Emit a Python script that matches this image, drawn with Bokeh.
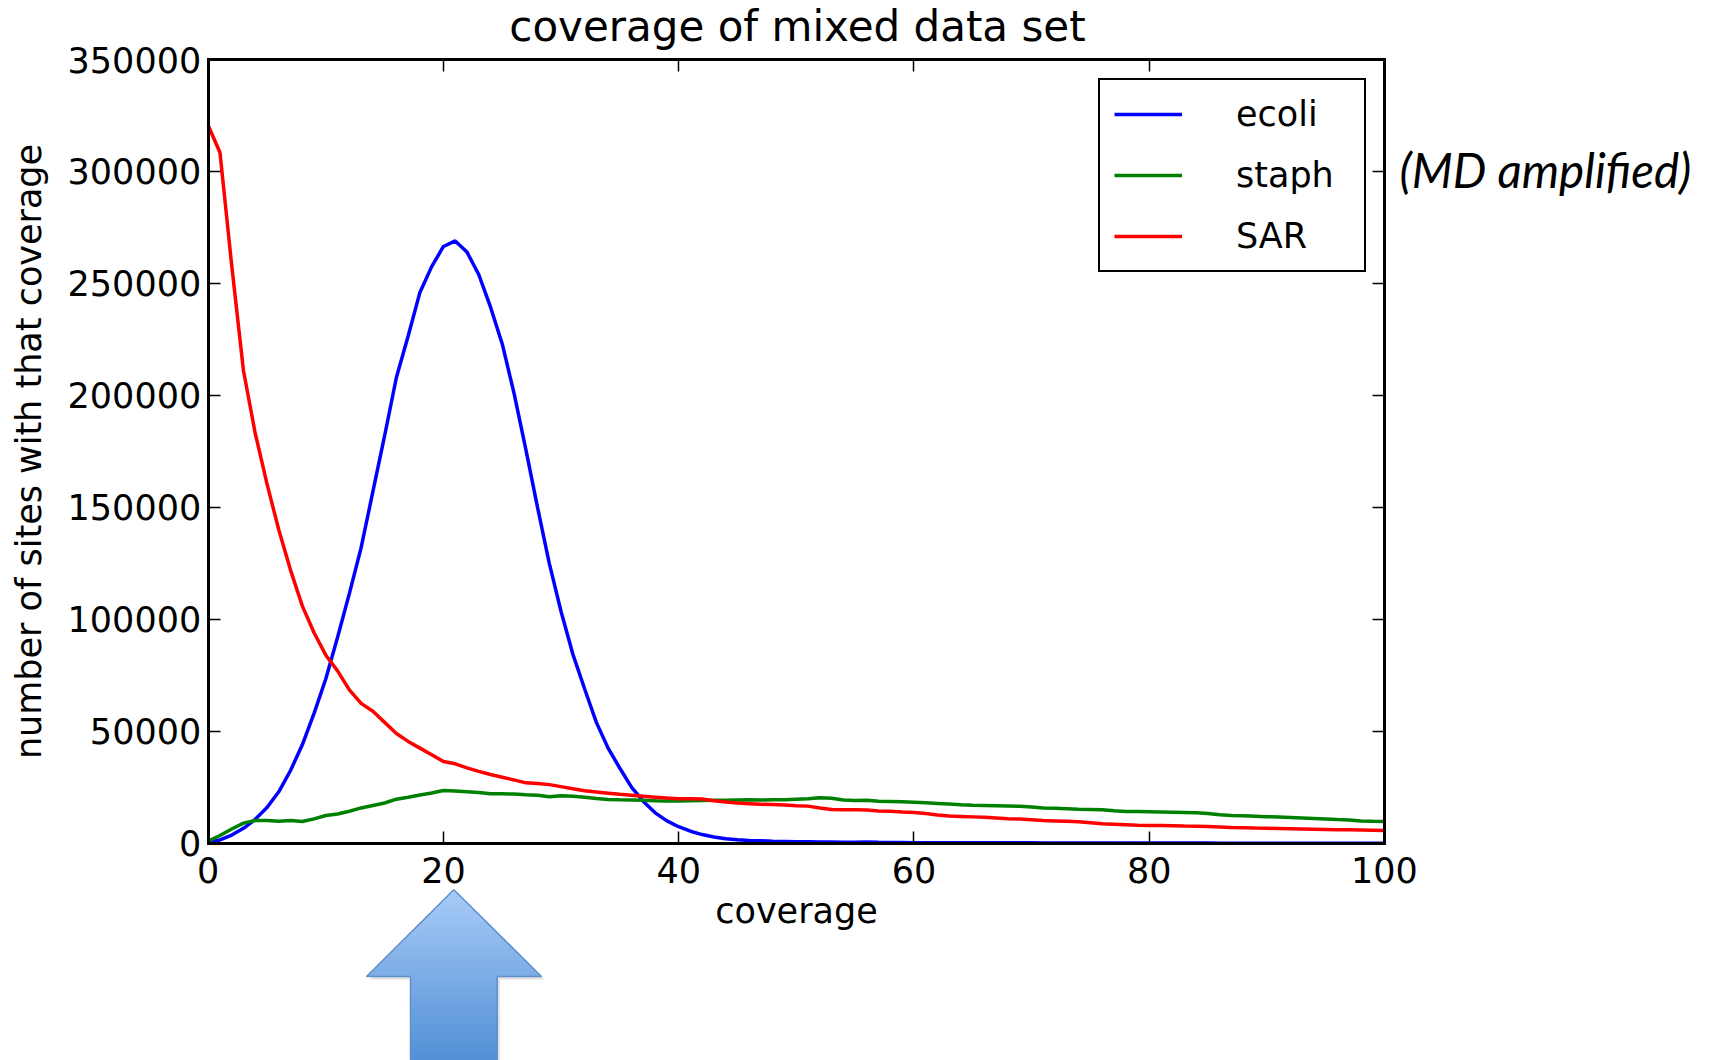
from bokeh.plotting import figure
from bokeh.models import (Range1d, LinearAxis, FixedTicker, BasicTickFormatter,
                          Legend, LegendItem, Label, ColumnDataSource)
from bokeh.embed import file_html
from bokeh.resources import INLINE

# ---------------- data ----------------
coverage = list(range(101))

ecoli = [500, 1500, 3700, 6700, 10700, 16000, 23000, 32500, 44000, 58000,
         73500, 92000, 111500, 132000, 157000, 182000, 208000, 226500, 246000, 257500,
         266500, 269000, 264000, 254000, 239500, 223000, 201000, 176000, 150000, 125000,
         103500, 84500, 69000, 54000, 42500, 33500, 25000, 18700, 13600, 10000,
         7400, 5400, 3900, 2800, 2000, 1600, 1300, 1100, 900, 800,
         700, 650, 600, 550, 500, 500, 600, 450, 400, 350,
         300, 300, 280, 260, 250, 240, 230, 220, 210, 200,
         190, 180, 170, 160, 150, 150, 140, 130, 120, 110,
         100, 100, 90, 90, 80, 80, 70, 70, 60, 60,
         60, 50, 50, 50, 50, 40, 40, 40, 40, 30, 30]

staph = [1000, 3500, 6400, 9000, 10200, 10200, 9900, 10200, 9700, 10900,
         12400, 13100, 14300, 15800, 16900, 18000, 19700, 20600, 21600, 22500,
         23600, 23300, 23000, 22700, 22100, 22100, 22000, 21700, 21500, 20800,
         21200, 21000, 20600, 20000, 19600, 19400, 19300, 19200, 19000, 18900,
         18900, 19000, 19100, 19200, 19200, 19300, 19400, 19300, 19400, 19500,
         19700, 19900, 20300, 20100, 19300, 19100, 19200, 18800, 18700, 18500,
         18300, 18100, 17800, 17500, 17200, 17000, 16900, 16800, 16700, 16500,
         16200, 15800, 15600, 15400, 15200, 15100, 15000, 14500, 14200, 14200,
         14100, 14000, 13900, 13800, 13600, 13300, 12700, 12400, 12300, 12100,
         11900, 11700, 11500, 11300, 11100, 10900, 10600, 10400, 10000, 9800, 9700]

sar = [320500, 308500, 258000, 211000, 183000, 160500, 140000, 122000, 106000, 94000,
       84000, 77000, 68500, 62500, 59000, 54000, 49000, 45500, 42500, 39500,
       36500, 35500, 33700, 32100, 30700, 29500, 28300, 27000, 26700, 26200,
       25300, 24400, 23500, 22900, 22400, 21900, 21500, 21000, 20600, 20200,
       19900, 19900, 19800, 19000, 18400, 18000, 17700, 17400, 17300, 17100,
       16800, 16600, 15800, 15100, 15000, 14950, 14900, 14400, 14300, 14000,
       13800, 13300, 12600, 12200, 12000, 11800, 11600, 11300, 11000, 10800,
       10500, 10200, 10000, 9800, 9600, 9200, 8700, 8500, 8300, 8100,
       7950, 7900, 7800, 7700, 7650, 7500, 7300, 7100, 6950, 6800,
       6700, 6600, 6500, 6400, 6300, 6200, 6100, 6000, 5900, 5800, 5700]

series_names = ["ecoli", "staph", "SAR"]
series_colors = ["#0000ff", "#008000", "#ff0000"]
x_ticks = [0, 20, 40, 60, 80, 100]
y_ticks = [0, 50000, 100000, 150000, 200000, 250000, 300000, 350000]
x_bounds = (0, 100)
y_bounds = (0, 350000)
title_text = "coverage of mixed data set"
x_label = "coverage"
y_label = "number of sites with that coverage"
note_text = "(MD amplified)"

FONT = "DejaVu Sans"
W, H = 1714, 1060
# pixel box of the axes inside the canvas
BOX_L, BOX_R, BOX_T, BOX_B = 207.7, 1383.9, 59.0, 842.8

# the frame covers the whole canvas; the axes are pinned at the data bounds
xspan = (x_bounds[1] - x_bounds[0]) * W / (BOX_R - BOX_L)
x0 = x_bounds[0] - BOX_L / W * xspan
yspan = (y_bounds[1] - y_bounds[0]) * H / (BOX_B - BOX_T)
y1 = y_bounds[1] + BOX_T / H * yspan
y0 = y1 - yspan

def px_to_x(px):
    return x0 + px / W * xspan

def py_to_y(py):
    return y1 - py / H * yspan

p = figure(width=W, height=H, x_range=Range1d(x0, x0 + xspan), y_range=Range1d(y0, y1),
           output_backend="svg", toolbar_location=None, title=None, min_border=0)
p.background_fill_color = "white"
p.border_fill_color = "white"
p.outline_line_color = None
p.grid.visible = False

p.add_layout(LinearAxis(), "above")
p.add_layout(LinearAxis(), "right")

p.below[0].fixed_location = y_bounds[0]
p.above[0].fixed_location = y_bounds[1]
p.left[0].fixed_location = x_bounds[0]
p.right[0].fixed_location = x_bounds[1]

for ax in p.xaxis:
    ax.ticker = FixedTicker(ticks=x_ticks)
    ax.bounds = x_bounds
for ax in p.yaxis:
    ax.ticker = FixedTicker(ticks=y_ticks)
    ax.formatter = BasicTickFormatter(use_scientific=False)
    ax.bounds = y_bounds

for ax in list(p.xaxis) + list(p.yaxis):
    ax.axis_line_width = 3
    ax.axis_line_color = "black"
    ax.axis_line_cap = "square"
    ax.major_tick_in = 12
    ax.major_tick_out = 0
    ax.major_tick_line_width = 1.5
    ax.minor_tick_line_color = None
    ax.major_label_text_font = FONT
    ax.major_label_text_font_size = "35px"
    ax.major_label_text_color = "black"
    ax.axis_label_text_font = FONT
    ax.axis_label_text_font_size = "35px"
    ax.axis_label_text_font_style = "normal"
    ax.axis_label_text_color = "black"

p.below[0].axis_label = x_label
p.below[0].major_label_standoff = 14
p.below[0].axis_label_standoff = 4
p.left[0].axis_label = y_label
p.left[0].major_label_standoff = 7
p.left[0].axis_label_standoff = 16
for ax in (p.above[0], p.right[0]):
    ax.major_label_text_color = None
    ax.major_label_standoff = 0

# ---------------- decorative arrow (pixel geometry converted to the plot's coordinates) ----------------
tip = (453.3, 889.3)
wing_py, wing_l, wing_r = 976.0, 366.0, 541.0
shaft_l, shaft_r, shaft_bot = 410.0, 496.7, 1066.0
top_c = (168, 203, 248)
bot_c = (78, 142, 212)

def col_at(py):
    t = (py - tip[1]) / (shaft_bot - tip[1])
    return "#%02x%02x%02x" % tuple(int(round(a + (b - a) * t)) for a, b in zip(top_c, bot_c))

outline_px = [tip[0], wing_r, shaft_r, shaft_r, shaft_l, shaft_l, wing_l]
outline_py = [tip[1], wing_py, wing_py, shaft_bot, shaft_bot, wing_py, wing_py]
p.patch([px_to_x(v + 3) for v in outline_px], [py_to_y(v + 3) for v in outline_py],
        fill_color="#7f7f7f", fill_alpha=0.22, line_color=None)

bx, by, bc = [], [], []
N1, N2 = 40, 40
for i in range(N1):
    f0, f1 = i / N1, (i + 1) / N1
    ya = tip[1] + (wing_py - tip[1]) * f0
    yb = tip[1] + (wing_py - tip[1]) * f1
    xs = [tip[0] + (wing_l - tip[0]) * f0, tip[0] + (wing_r - tip[0]) * f0,
          tip[0] + (wing_r - tip[0]) * f1, tip[0] + (wing_l - tip[0]) * f1]
    bx.append([px_to_x(v) for v in xs])
    by.append([py_to_y(v) for v in (ya, ya, yb, yb)])
    bc.append(col_at((ya + yb) / 2))
for i in range(N2):
    ya = wing_py + (shaft_bot - wing_py) * i / N2
    yb = wing_py + (shaft_bot - wing_py) * (i + 1) / N2
    bx.append([px_to_x(v) for v in (shaft_l, shaft_r, shaft_r, shaft_l)])
    by.append([py_to_y(v) for v in (ya, ya, yb, yb)])
    bc.append(col_at((ya + yb) / 2))
bands = ColumnDataSource(dict(xs=bx, ys=by, c=bc))
p.patches("xs", "ys", source=bands, fill_color="c", line_color="c", line_width=0.8)
p.patch([px_to_x(v) for v in outline_px], [py_to_y(v) for v in outline_py],
        fill_alpha=0, line_color="#5f8fcc", line_width=1.5)

# ---------------- data lines ----------------
renderers = []
for name, ys, col in zip(series_names, [ecoli, staph, sar], series_colors):
    r = p.line(coverage, ys, line_color=col, line_width=3.5)
    renderers.append(r)

legend = Legend(items=[LegendItem(label=n, renderers=[r]) for n, r in zip(series_names, renderers)],
                location=(1098.0, H - 271.5), padding=14, spacing=21,
                glyph_width=68, glyph_height=36, label_standoff=54, label_width=114, label_height=36,
                label_text_font=FONT, label_text_font_size="35px", label_text_color="black",
                border_line_color="black", border_line_width=2.5, border_line_alpha=1,
                background_fill_color="white", background_fill_alpha=1)
p.add_layout(legend)

# ---------------- texts ----------------
p.add_layout(Label(x=(x_bounds[0] + x_bounds[1]) / 2 + 0.1, y=H - 26.0, y_units="screen",
                   text=title_text, text_font=FONT, text_font_size="42px",
                   text_align="center", text_baseline="alphabetic", text_color="black"))
p.add_layout(Label(x=1399.0, y=H - 169.0, x_units="screen", y_units="screen",
                   text=note_text, text_font="Lato", text_font_style="italic",
                   text_font_size="47.5px", text_align="left", text_baseline="alphabetic",
                   text_color="black"))

open("out.html", "w").write(file_html(p, INLINE))
